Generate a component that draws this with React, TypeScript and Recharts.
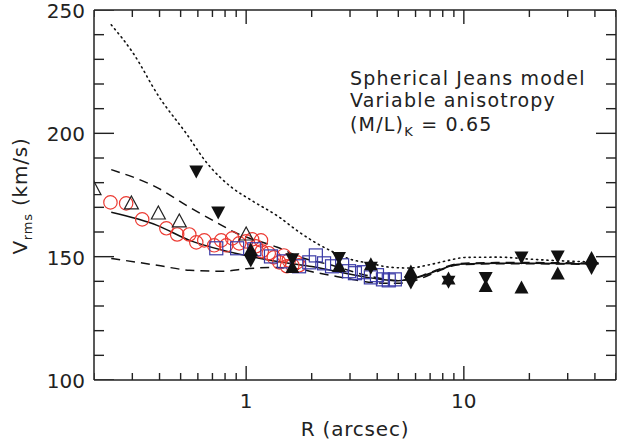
import React from "react";
import { ComposedChart, Line, Scatter, XAxis, YAxis, Customized } from "recharts";

const FONT = "'DejaVu Sans', sans-serif";
const INK = "#222";
const RED = "#ec3a32";
const BLUE = "#3a3aa6";

// model curves, R (arcsec) vs Vrms (km/s)
const dottedModel = [
  { r: 0.24, v: 244 }, { r: 0.3, v: 233 }, { r: 0.4, v: 214.5 }, { r: 0.53, v: 200 },
  { r: 0.66, v: 188 }, { r: 0.86, v: 178 }, { r: 1.05, v: 173 }, { r: 1.42, v: 166 },
  { r: 1.75, v: 160 }, { r: 2.1, v: 155.5 }, { r: 2.5, v: 152 }, { r: 3.0, v: 149 },
  { r: 3.7, v: 147.3 }, { r: 4.6, v: 145.7 }, { r: 5.6, v: 145.4 }, { r: 7.0, v: 146.8 },
  { r: 8.5, v: 148.5 }, { r: 10.2, v: 149.7 }, { r: 14.5, v: 149.8 }, { r: 20, v: 149 },
  { r: 30, v: 148.2 }, { r: 41.6, v: 147.8 },
];

const solidModel = [
  { r: 0.24, v: 168 }, { r: 0.39, v: 162.7 }, { r: 0.55, v: 156.6 }, { r: 0.78, v: 152.6 },
  { r: 1.1, v: 149.7 }, { r: 1.57, v: 147.3 }, { r: 2.0, v: 146 }, { r: 2.67, v: 143.8 },
  { r: 3.8, v: 141.3 }, { r: 5.0, v: 140.2 }, { r: 5.7, v: 140.8 }, { r: 6.5, v: 142.2 },
  { r: 7.7, v: 144.6 }, { r: 9.5, v: 146.9 }, { r: 14.5, v: 147.3 }, { r: 20.5, v: 147.3 },
  { r: 41.6, v: 147 },
];

const upperDashed = [
  { r: 0.24, v: 185.3 }, { r: 0.39, v: 178 }, { r: 0.55, v: 170 }, { r: 0.78, v: 162.5 },
  { r: 0.88, v: 160 }, { r: 1.0, v: 158 }, { r: 1.39, v: 153.8 }, { r: 1.75, v: 150 },
  { r: 2.48, v: 146.5 }, { r: 3.55, v: 142.5 }, { r: 5.0, v: 140.3 }, { r: 5.7, v: 141 },
  { r: 6.5, v: 142.5 }, { r: 7.7, v: 144.9 }, { r: 9.5, v: 147.2 }, { r: 14.5, v: 147.6 },
  { r: 20.5, v: 147.6 }, { r: 41.6, v: 147.3 },
];

const lowerDashed = [
  { r: 0.24, v: 149.3 }, { r: 0.39, v: 146.5 }, { r: 0.55, v: 144.5 }, { r: 0.78, v: 144.1 },
  { r: 1.03, v: 145.2 }, { r: 1.35, v: 145.6 }, { r: 1.75, v: 145 }, { r: 2.1, v: 143.5 },
  { r: 2.6, v: 142 }, { r: 3.2, v: 140.5 }, { r: 3.8, v: 139.5 }, { r: 4.9, v: 139.2 },
  { r: 5.7, v: 139.8 }, { r: 6.5, v: 141.5 }, { r: 7.7, v: 144.3 }, { r: 9.5, v: 146.7 },
  { r: 14.5, v: 147.1 }, { r: 20.5, v: 147.1 }, { r: 41.6, v: 146.8 },
];

// observations
const redCircles = [
  { r: 0.238, v: 172 }, { r: 0.281, v: 171.6 }, { r: 0.333, v: 165.1 }, { r: 0.43, v: 161.5 },
  { r: 0.482, v: 159 }, { r: 0.548, v: 159 }, { r: 0.59, v: 155.8 }, { r: 0.642, v: 156.6 },
  { r: 0.713, v: 154.6 }, { r: 0.768, v: 156.6 }, { r: 0.81, v: 154.6 }, { r: 0.863, v: 157.4 },
  { r: 0.929, v: 155.4 }, { r: 1.0, v: 156.2 }, { r: 1.065, v: 157 }, { r: 1.11, v: 154.2 },
  { r: 1.17, v: 156.6 }, { r: 1.18, v: 152.2 }, { r: 1.27, v: 151.4 }, { r: 1.34, v: 149.7 },
  { r: 1.42, v: 147.7 }, { r: 1.49, v: 150.5 }, { r: 1.54, v: 146.1 }, { r: 1.57, v: 148.5 },
  { r: 1.63, v: 146.5 }, { r: 1.71, v: 147.7 }, { r: 1.75, v: 146.5 },
];

const blueSquares = [
  { r: 0.729, v: 153.4 }, { r: 0.909, v: 153.4 }, { r: 1.09, v: 153 }, { r: 1.3, v: 150.1 },
  { r: 1.49, v: 148.1 }, { r: 1.75, v: 146.1 }, { r: 1.95, v: 147.7 }, { r: 2.09, v: 150.5 },
  { r: 2.28, v: 147.3 }, { r: 2.48, v: 146.1 }, { r: 2.76, v: 146.5 }, { r: 2.97, v: 144.1 },
  { r: 3.16, v: 143.3 }, { r: 3.47, v: 143.7 }, { r: 3.74, v: 141.6 }, { r: 3.99, v: 142.5 },
  { r: 4.25, v: 140.8 }, { r: 4.52, v: 140.4 }, { r: 4.82, v: 140.8 },
];

const openTriangles = [
  { r: 0.2, v: 177.8 }, { r: 0.297, v: 172 }, { r: 0.395, v: 167.9 }, { r: 0.493, v: 164.7 },
  { r: 1.0, v: 159.4 },
];

const downTriangles = [
  { r: 0.59, v: 184.3 }, { r: 0.744, v: 167.7 }, { r: 1.05, v: 148.2 }, { r: 1.63, v: 148.8 },
  { r: 2.67, v: 149.3 }, { r: 3.74, v: 145.3 }, { r: 5.71, v: 139.3 }, { r: 8.5, v: 139.6 },
  { r: 12.6, v: 141.1 }, { r: 18.4, v: 149.5 }, { r: 27, v: 149.9 }, { r: 38.6, v: 145.2 },
];

const upTriangles = [
  { r: 1.05, v: 153.1 }, { r: 1.63, v: 146 }, { r: 2.67, v: 146.4 }, { r: 3.74, v: 147.1 },
  { r: 5.71, v: 144.2 }, { r: 8.5, v: 141.4 }, { r: 12.6, v: 138.3 }, { r: 18.4, v: 137.7 },
  { r: 27, v: 143.4 }, { r: 38.6, v: 149.7 },
];

const xTicks = [0.2, 0.3, 0.4, 0.5, 0.6, 0.7, 0.8, 0.9, 1, 2, 3, 4, 5, 6, 7, 8, 9, 10, 20, 30, 40, 50];
const xLabeled = [1, 10];
const yTicks = [100, 110, 120, 130, 140, 150, 160, 170, 180, 190, 200, 210, 220, 230, 240, 250];
const yLabeled = [100, 150, 200, 250];

const X_MIN = 0.2;
const X_MAX = 50;
const Y_MIN = 100;
const Y_MAX = 250;

// tick stubs placed on the frame through the chart's scales
const bottomTickPts = xTicks.map((t) => ({ r: t, v: Y_MIN, major: xLabeled.includes(t) }));
const topTickPts = xTicks.map((t) => ({ r: t, v: Y_MAX, major: xLabeled.includes(t) }));
const leftTickPts = yTicks.map((t) => ({ r: X_MIN, v: t, major: yLabeled.includes(t) }));
const rightTickPts = yTicks.map((t) => ({ r: X_MAX, v: t, major: yLabeled.includes(t) }));

const isMajor = (p: any) => Boolean(p.payload?.major ?? p.major);
const TW = 1.4; // tick thickness

const tickShape = (side: "bottom" | "top" | "left" | "right") => (p: any) => {
  const cx = Number(p.cx);
  const cy = Number(p.cy);
  const horizontal = side === "bottom" || side === "top";
  const len = horizontal ? (isMajor(p) ? 14 : 7) : isMajor(p) ? 20 : 10;
  if (side === "bottom") return <rect x={cx - TW / 2} y={cy - len} width={TW} height={len} fill={INK} />;
  if (side === "top") return <rect x={cx - TW / 2} y={cy} width={TW} height={len} fill={INK} />;
  if (side === "left") return <rect x={cx} y={cy - TW / 2} width={len} height={TW} fill={INK} />;
  return <rect x={cx - len} y={cy - TW / 2} width={len} height={TW} fill={INK} />;
};

function BottomLabel({ x, y, payload }: any) {
  if (!xLabeled.includes(payload.value)) return <g />;
  return (
    <text x={x} y={y + 28} textAnchor="middle" fontSize={20} fontFamily={FONT} fill={INK}>
      {payload.value}
    </text>
  );
}

function LeftLabel({ x, y, payload }: any) {
  if (!yLabeled.includes(payload.value)) return <g />;
  return (
    <text x={x - 9} y={y + 8} textAnchor="end" fontSize={20} fontFamily={FONT} fill={INK}>
      {payload.value}
    </text>
  );
}

const circleShape = (p: any) => (
  <circle cx={p.cx} cy={p.cy} r={6.7} fill="none" stroke={RED} strokeWidth={1.2} />
);
const squareShape = (p: any) => (
  <rect x={p.cx - 6.5} y={p.cy - 6.5} width={13} height={13} fill="none" stroke={BLUE} strokeWidth={1.2} />
);
const openTriShape = (p: any) => (
  <path
    d={`M${p.cx - 7},${p.cy + 6.5}L${p.cx + 7},${p.cy + 6.5}L${p.cx},${p.cy - 6.5}Z`}
    fill="none"
    stroke={INK}
    strokeWidth={1.2}
  />
);
const upTriShape = (p: any) => (
  <path d={`M${p.cx - 7},${p.cy + 6.5}L${p.cx + 7},${p.cy + 6.5}L${p.cx},${p.cy - 6.5}Z`} fill="#111" />
);
const downTriShape = (p: any) => (
  <path d={`M${p.cx - 7},${p.cy - 6.5}L${p.cx + 7},${p.cy - 6.5}L${p.cx},${p.cy + 6.5}Z`} fill="#111" />
);

function Annotations() {
  return (
    <g fontFamily={FONT} fill={INK}>
      <text x={350} y={85} fontSize={19} letterSpacing={1.2}>Spherical Jeans model</text>
      <text x={350} y={107} fontSize={19} letterSpacing={1.2}>Variable anisotropy</text>
      <text x={350} y={131} fontSize={19} letterSpacing={1.2}>
        (M/L)<tspan fontSize={13} dy={5}>K</tspan>
        <tspan dy={-5}> = 0.65</tspan>
      </text>
      <text x={355} y={436} fontSize={20} textAnchor="middle" letterSpacing={0.8}>R (arcsec)</text>
      <text x={27} y={196} fontSize={20} textAnchor="middle" letterSpacing={0.8} transform="rotate(-90, 27, 196)">
        V<tspan fontSize={13} dy={5}>rms</tspan>
        <tspan dy={-5}> (km/s)</tspan>
      </text>
    </g>
  );
}

const axisLine = { stroke: INK, strokeWidth: 1.5 };

export default function App() {
  return (
    <div style={{ position: "absolute", left: 0, top: 0, width: 617, height: 443, background: "#fff" }}>
      <ComposedChart width={617} height={443} margin={{ top: 9, right: 0, bottom: 0, left: 0 }}>
        <XAxis
          dataKey="r"
          type="number"
          scale="log"
          domain={[X_MIN, X_MAX]}
          allowDataOverflow
          ticks={xTicks}
          interval={0}
          height={63}
          tickSize={0}
          tickMargin={0}
          tickLine={false}
          tick={<BottomLabel />}
          axisLine={axisLine}
        />
        <XAxis
          xAxisId="top"
          orientation="top"
          dataKey="r"
          type="number"
          scale="log"
          domain={[X_MIN, X_MAX]}
          allowDataOverflow
          height={1}
          tick={false}
          tickLine={false}
          axisLine={axisLine}
        />
        <YAxis
          dataKey="v"
          type="number"
          domain={[Y_MIN, Y_MAX]}
          allowDataOverflow
          ticks={yTicks}
          interval={0}
          width={94}
          tickSize={0}
          tickMargin={0}
          tickLine={false}
          tick={<LeftLabel />}
          axisLine={axisLine}
        />
        <YAxis
          yAxisId="right"
          orientation="right"
          dataKey="v"
          type="number"
          domain={[Y_MIN, Y_MAX]}
          allowDataOverflow
          width={1}
          tick={false}
          tickLine={false}
          axisLine={axisLine}
        />

        <Scatter data={bottomTickPts} shape={tickShape("bottom")} isAnimationActive={false} />
        <Scatter data={topTickPts} shape={tickShape("top")} isAnimationActive={false} />
        <Scatter data={leftTickPts} shape={tickShape("left")} isAnimationActive={false} />
        <Scatter data={rightTickPts} shape={tickShape("right")} isAnimationActive={false} />

        <Scatter data={redCircles} shape={circleShape} isAnimationActive={false} />
        <Scatter data={blueSquares} shape={squareShape} isAnimationActive={false} />
        <Scatter data={openTriangles} shape={openTriShape} isAnimationActive={false} />
        <Line data={dottedModel} dataKey="v" type="monotone" dot={false} stroke="#111" strokeWidth={1.6}
          strokeDasharray="1.2 4" strokeLinecap="round" isAnimationActive={false} />
        <Line data={upperDashed} dataKey="v" type="monotone" dot={false} stroke="#111" strokeWidth={1.5}
          strokeDasharray="9 6" isAnimationActive={false} />
        <Line data={lowerDashed} dataKey="v" type="monotone" dot={false} stroke="#111" strokeWidth={1.5}
          strokeDasharray="9 6" isAnimationActive={false} />
        <Line data={solidModel} dataKey="v" type="monotone" dot={false} stroke="#111" strokeWidth={1.5}
          isAnimationActive={false} />
        <Scatter data={downTriangles} shape={downTriShape} isAnimationActive={false} />
        <Scatter data={upTriangles} shape={upTriShape} isAnimationActive={false} />
        <Customized component={Annotations} />
      </ComposedChart>
    </div>
  );
}
